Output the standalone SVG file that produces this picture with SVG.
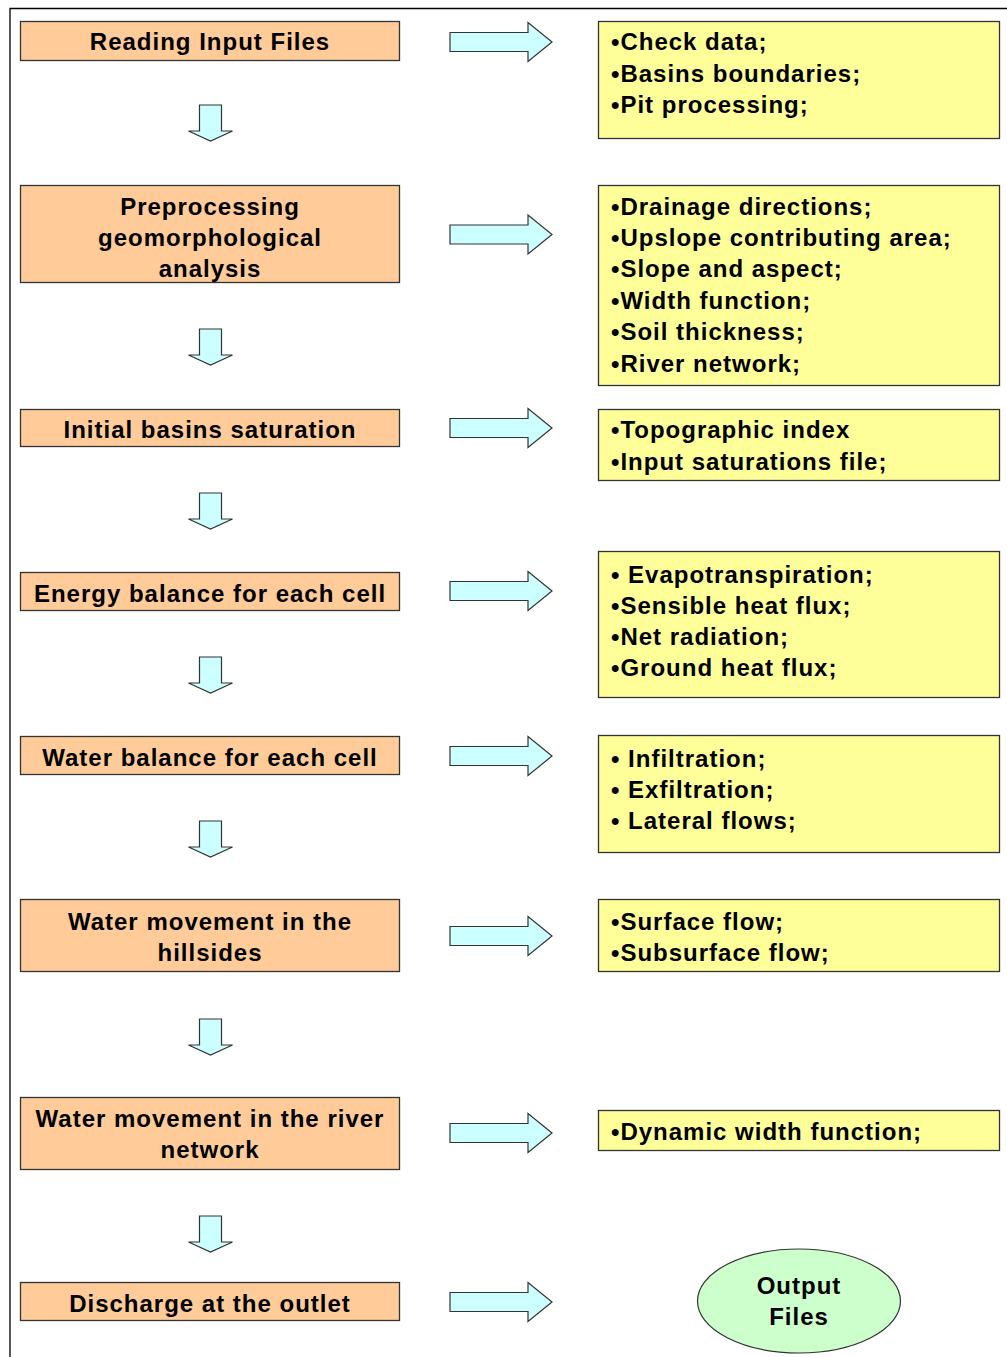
<svg xmlns="http://www.w3.org/2000/svg" xmlns:xlink="http://www.w3.org/1999/xlink" width="1007" height="1357" viewBox="0 0 1007 1357">
<style>
text{font-family:"Liberation Sans",Arial,sans-serif;font-weight:bold;font-size:24px;letter-spacing:1px;fill:#000}
.c{text-anchor:middle}
.step{fill:#FFCC99;stroke:#333;stroke-width:1.3}
.out{fill:#FFFF99;stroke:#333;stroke-width:1.3}
.arr{fill:#CCFFFF;stroke:#333;stroke-width:1.2}
.ell{fill:#CCFFCC;stroke:#333;stroke-width:1.2}
</style>
<defs>
<path id="ra" d="M0,-9.5 H78 V-19.5 L102,0 L78,19.5 V9.5 H0 Z"/>
<path id="da" d="M-11,0 H11 V26 H22 L0,36 L-22,26 H-11 Z"/>
</defs>
<rect width="1007" height="1357" fill="#fff"/>
<path d="M10,1357 V8.5 H1007" fill="none" stroke="#000" stroke-width="1.3"/>

<g id="connectors">
<use xlink:href="#ra" href="#ra" class="arr" x="450" y="42"/>
<use xlink:href="#ra" href="#ra" class="arr" x="450" y="234.5"/>
<use xlink:href="#ra" href="#ra" class="arr" x="450" y="428"/>
<use xlink:href="#ra" href="#ra" class="arr" x="450" y="591"/>
<use xlink:href="#ra" href="#ra" class="arr" x="450" y="756"/>
<use xlink:href="#ra" href="#ra" class="arr" x="450" y="936"/>
<use xlink:href="#ra" href="#ra" class="arr" x="450" y="1133"/>
<use xlink:href="#ra" href="#ra" class="arr" x="450" y="1302"/>
<use xlink:href="#da" href="#da" class="arr" x="210.5" y="105"/>
<use xlink:href="#da" href="#da" class="arr" x="210.5" y="329"/>
<use xlink:href="#da" href="#da" class="arr" x="210.5" y="493"/>
<use xlink:href="#da" href="#da" class="arr" x="210.5" y="657"/>
<use xlink:href="#da" href="#da" class="arr" x="210.5" y="821"/>
<use xlink:href="#da" href="#da" class="arr" x="210.5" y="1019"/>
<use xlink:href="#da" href="#da" class="arr" x="210.5" y="1216"/>
</g>

<g id="step1"><rect class="step" x="20.5" y="21.5" width="379" height="39"/><text class="c" x="210" y="50">Reading Input Files</text></g>
<g id="step2"><rect class="step" x="20.5" y="185.5" width="379" height="97"/><text class="c" x="210" y="215">Preprocessing</text><text class="c" x="210" y="246">geomorphological</text><text class="c" x="210" y="277">analysis</text></g>
<g id="step3"><rect class="step" x="20.5" y="409.5" width="379" height="37"/><text class="c" x="210" y="438">Initial basins saturation</text></g>
<g id="step4"><rect class="step" x="20.5" y="572.5" width="379" height="38"/><text class="c" x="210" y="602">Energy balance for each cell</text></g>
<g id="step5"><rect class="step" x="20.5" y="736.5" width="379" height="38"/><text class="c" x="210" y="766">Water balance for each cell</text></g>
<g id="step6"><rect class="step" x="20.5" y="899.5" width="379" height="72"/><text class="c" x="210" y="930">Water movement in the</text><text class="c" x="210" y="961">hillsides</text></g>
<g id="step7"><rect class="step" x="20.5" y="1097.5" width="379" height="72"/><text class="c" x="210" y="1127">Water movement in the river</text><text class="c" x="210" y="1158">network</text></g>
<g id="step8"><rect class="step" x="20.5" y="1282.5" width="379" height="38"/><text class="c" x="210" y="1312">Discharge at the outlet</text></g>

<g id="out1"><rect class="out" x="598.5" y="21.5" width="401" height="117"/><text x="611" y="50">•Check data;</text><text x="611" y="82">•Basins boundaries;</text><text x="611" y="113">•Pit processing;</text></g>
<g id="out2"><rect class="out" x="598.5" y="185.5" width="401" height="200"/><text x="611" y="215">•Drainage directions;</text><text x="611" y="246">•Upslope contributing area;</text><text x="611" y="277">•Slope and aspect;</text><text x="611" y="309">•Width function;</text><text x="611" y="340">•Soil thickness;</text><text x="611" y="372">•River network;</text></g>
<g id="out3"><rect class="out" x="598.5" y="409.5" width="401" height="71"/><text x="611" y="438">•Topographic index</text><text x="611" y="470">•Input saturations file;</text></g>
<g id="out4"><rect class="out" x="598.5" y="551.5" width="401" height="146"/><text x="611" y="583">• Evapotranspiration;</text><text x="611" y="614">•Sensible heat flux;</text><text x="611" y="645">•Net radiation;</text><text x="611" y="676">•Ground heat flux;</text></g>
<g id="out5"><rect class="out" x="598.5" y="735.5" width="401" height="117"/><text x="611" y="767">• Infiltration;</text><text x="611" y="798">• Exfiltration;</text><text x="611" y="829">• Lateral flows;</text></g>
<g id="out6"><rect class="out" x="598.5" y="899.5" width="401" height="72"/><text x="611" y="930">•Surface flow;</text><text x="611" y="961">•Subsurface flow;</text></g>
<g id="out7"><rect class="out" x="598.5" y="1110.5" width="401" height="40"/><text x="611" y="1140">•Dynamic width function;</text></g>
<g id="output-files"><ellipse class="ell" cx="799" cy="1301" rx="101.5" ry="52"/><text class="c" x="799" y="1294">Output</text><text class="c" x="799" y="1325">Files</text></g>
</svg>
